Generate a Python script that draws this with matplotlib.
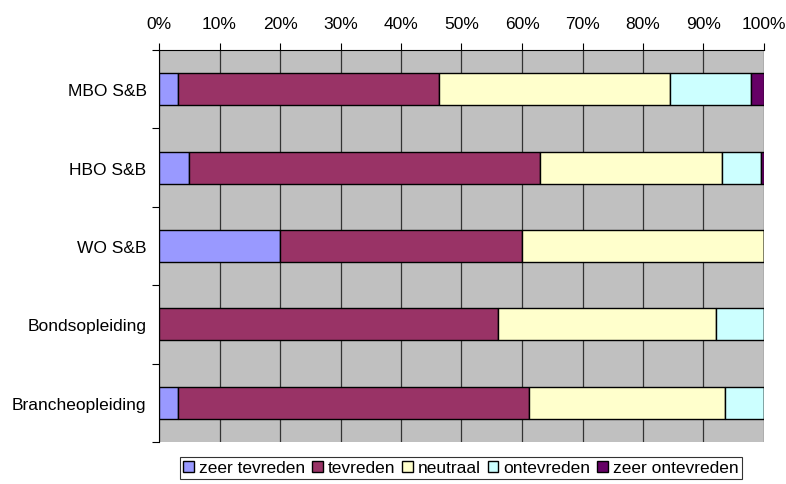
import matplotlib
matplotlib.use("Agg")
import matplotlib.pyplot as plt
import numpy as np

plt.rcParams["font.family"] = ["Liberation Sans", "DejaVu Sans"]

categories = ["MBO S&B", "HBO S&B", "WO S&B", "Bondsopleiding", "Brancheopleiding"]
series_names = ["zeer tevreden", "tevreden", "neutraal", "ontevreden", "zeer ontevreden"]
zeer_tevreden = [3.2, 4.9, 20.0, 0.0, 3.2]
tevreden = [43.0, 58.1, 40.0, 56.0, 58.0]
neutraal = [38.3, 30.1, 40.0, 36.0, 32.4]
ontevreden = [13.4, 6.4, 0.0, 8.0, 6.4]
zeer_ontevreden = [2.1, 0.5, 0.0, 0.0, 0.0]
xtick_labels = [f"{v}%" for v in range(0, 101, 10)]

colors = ["#9999FF", "#993366", "#FFFFCC", "#CCFFFF", "#660066"]
FS = 12.5

fig = plt.figure(figsize=(7.86, 4.85), dpi=100)
ax = fig.add_axes([159 / 786, 1 - 443 / 485, (764 - 159) / 786, (443 - 51) / 485])
ax.set_facecolor("#C0C0C0")

ypos = np.arange(len(categories))
left = np.zeros(len(categories))
for name, vals, c in zip(series_names,
                         [zeer_tevreden, tevreden, neutraal, ontevreden, zeer_ontevreden],
                         colors):
    vals = np.array(vals)
    ax.barh(ypos, vals, left=left, height=0.41, color=c, edgecolor="black",
            linewidth=1.0, label=name, zorder=3)
    left += vals

ax.set_xlim(0, 100)
ax.set_ylim(len(categories) - 0.5, -0.5)
ax.xaxis.tick_top()
ax.set_xticks(range(0, 101, 10))
ax.set_xticklabels(xtick_labels, fontsize=FS)
ax.tick_params(axis="x", direction="out", length=5, width=0.8, pad=9, color="black")
ax.grid(axis="x", color="#333333", linewidth=0.9, zorder=1)

ax.set_yticks(ypos)
ax.set_yticklabels(categories, fontsize=FS)
ax.set_yticks(np.arange(-0.5, len(categories)), minor=True)
ax.tick_params(axis="y", which="major", length=0, pad=9)
ax.tick_params(axis="y", which="minor", length=5, width=0.8, direction="out")

for s in ["bottom", "right"]:
    ax.spines[s].set_visible(False)
ax.spines["left"].set_color("black")
ax.spines["top"].set_color("black")
ax.spines["left"].set_linewidth(0.8)
ax.spines["top"].set_linewidth(0.8)

leg = fig.legend(loc="center", bbox_to_anchor=(461 / 786, 1 - 469 / 485), ncol=5,
                 fontsize=FS, frameon=True, fancybox=False, handlelength=0.6,
                 handleheight=0.6, handletextpad=0.3, columnspacing=0.4,
                 borderpad=0.2, borderaxespad=0.2, edgecolor="black")
leg.get_frame().set_linewidth(0.8)

fig.savefig("out.png", dpi=100)
